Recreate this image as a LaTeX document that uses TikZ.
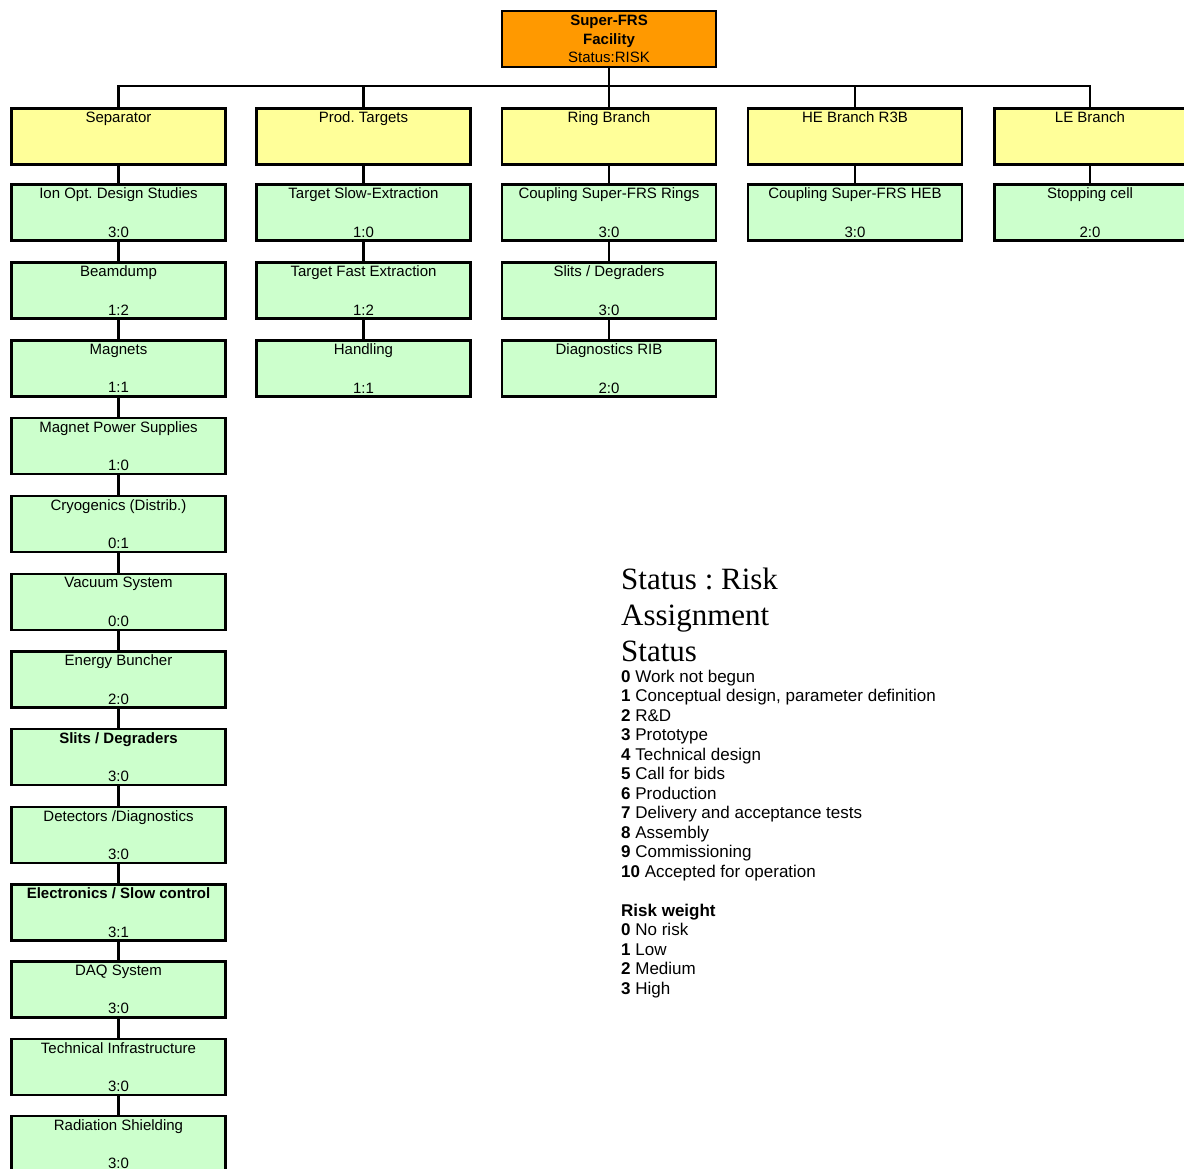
\documentclass[tikz,border=0pt]{standalone}
\usepackage{fontspec}
\setmainfont{Liberation Sans}
\newfontfamily\timesfont{Liberation Serif}
\frenchspacing
\definecolor{facility}{HTML}{FF9900}
\definecolor{branch}{HTML}{FFFF99}
\definecolor{task}{HTML}{CCFFCC}

\begin{document}
\begin{tikzpicture}
	[x=1pt,y=-1pt,
	 box/.style={rectangle, draw, line width=2.8pt, minimum width=214pt, minimum height=56pt, align=center, inner sep=0pt, font=\fontsize{15}{18}\selectfont},
	 branchbox/.style={box, fill=branch},
	 taskbox/.style={box, fill=task},
	 link/.style={line width=2.2pt}]
	\useasboundingbox (0,0) rectangle (1184,1169);
	\clip (0,0) rectangle (1184,1169);

	\node[box, fill=facility, font=\fontsize{15}{18.5}\selectfont] (top) at (609,39) {\textbf{Super-FRS}\\\textbf{Facility}\\Status:RISK};

	% branches
	\node[branchbox] (sep) at (118.5,136.5) {Separator\\[20.5pt]\phantom{0}};
	\node[branchbox] (prod) at (363.5,136.5) {Prod. Targets\\[20.5pt]\phantom{0}};
	\node[branchbox] (ring) at (609,136.5) {Ring Branch\\[20.5pt]\phantom{0}};
	\node[branchbox] (heb) at (855,136.5) {HE Branch R3B\\[20.5pt]\phantom{0}};
	\node[branchbox, minimum width=191pt] (leb) at (1090,136.5) {LE Branch\\[20.5pt]\phantom{0}};

	% separator column
	\node[taskbox] (s1) at (118.5,212.5) {Ion Opt. Design Studies\\[20.5pt]3:0};
	\node[taskbox] (s2) at (118.5,290.5) {Beamdump\\[20.5pt]1:2};
	\node[taskbox] (s3) at (118.5,368.5) {Magnets\\[20.5pt]1:1};
	\node[taskbox] (s4) at (118.5,446) {Magnet Power Supplies\\[20.5pt]1:0};
	\node[taskbox] (s5) at (118.5,524) {Cryogenics (Distrib.)\\[20.5pt]0:1};
	\node[taskbox] (s6) at (118.5,602) {Vacuum System\\[20.5pt]0:0};
	\node[taskbox] (s7) at (118.5,679.5) {Energy Buncher\\[20.5pt]2:0};
	\node[taskbox] (s8) at (118.5,757) {\textbf{Slits / Degraders}\\[20.5pt]3:0};
	\node[taskbox] (s9) at (118.5,835) {Detectors /Diagnostics\\[20.5pt]3:0};
	\node[taskbox] (s10) at (118.5,912.5) {\textbf{Electronics / Slow control}\\[20.5pt]3:1};
	\node[taskbox] (s11) at (118.5,989.5) {DAQ System\\[20.5pt]3:0};
	\node[taskbox] (s12) at (118.5,1067) {Technical Infrastructure\\[20.5pt]3:0};
	\node[taskbox] (s13) at (118.5,1144) {Radiation Shielding\\[20.5pt]3:0};

	% targets column
	\node[taskbox] (t1) at (363.5,212.5) {Target Slow-Extraction\\[20.5pt]1:0};
	\node[taskbox] (t2) at (363.5,290.5) {Target Fast Extraction\\[20.5pt]1:2};
	\node[taskbox] (t3) at (363.5,368.5) {Handling\\[20.5pt]1:1};

	% ring column
	\node[taskbox] (r1) at (609,212.5) {Coupling Super-FRS Rings\\[20.5pt]3:0};
	\node[taskbox] (r2) at (609,290.5) {Slits / Degraders\\[20.5pt]3:0};
	\node[taskbox] (r3) at (609,368.5) {Diagnostics RIB\\[20.5pt]2:0};

	\node[taskbox] (h1) at (855,212.5) {Coupling Super-FRS HEB\\[20.5pt]3:0};
	\node[taskbox, minimum width=191pt] (l1) at (1090,212.5) {Stopping cell\\[20.5pt]2:0};

	% tree lines
	\coordinate (bus) at (609,86);
	\draw[link] (top) -- (bus);
	\draw[link] (sep.north) |- (bus) -| (leb.north);
	\draw[link] (prod.north) -- (prod.north |- bus);
	\draw[link] (ring.north) -- (bus);
	\draw[link] (heb.north) -- (heb.north |- bus);

	\draw[link] (sep) -- (s1);
	\draw[link] (s1) -- (s2);
	\draw[link] (s2) -- (s3);
	\draw[link] (s3) -- (s4);
	\draw[link] (s4) -- (s5);
	\draw[link] (s5) -- (s6);
	\draw[link] (s6) -- (s7);
	\draw[link] (s7) -- (s8);
	\draw[link] (s8) -- (s9);
	\draw[link] (s9) -- (s10);
	\draw[link] (s10) -- (s11);
	\draw[link] (s11) -- (s12);
	\draw[link] (s12) -- (s13);
	\draw[link] (prod) -- (t1);
	\draw[link] (t1) -- (t2);
	\draw[link] (t2) -- (t3);
	\draw[link] (ring) -- (r1);
	\draw[link] (r1) -- (r2);
	\draw[link] (r2) -- (r3);
	\draw[link] (heb) -- (h1);
	\draw[link] (leb) -- (l1);

	% legend (base = last line)
	\node[anchor=base west, align=left, inner sep=0pt, font=\timesfont\fontsize{31}{36}\selectfont] (head) at (621,661) {Status : Risk\\Assignment\\Status};
	\node[anchor=base west, align=left, inner sep=0pt, font=\fontsize{17}{19.5}\selectfont] (key) at (621,994)
		{\textbf{0} Work not begun\\
		 \textbf{1} Conceptual design, parameter definition\\
		 \textbf{2} R\&D\\
		 \textbf{3} Prototype\\
		 \textbf{4} Technical design\\
		 \textbf{5} Call for bids\\
		 \textbf{6} Production\\
		 \textbf{7} Delivery and acceptance tests\\
		 \textbf{8} Assembly\\
		 \textbf{9} Commissioning\\
		 \textbf{10} Accepted for operation\\[19.5pt]
		 \textbf{Risk weight}\\
		 \textbf{0} No risk\\
		 \textbf{1} Low\\
		 \textbf{2} Medium\\
		 \textbf{3} High};
\end{tikzpicture}
\end{document}
